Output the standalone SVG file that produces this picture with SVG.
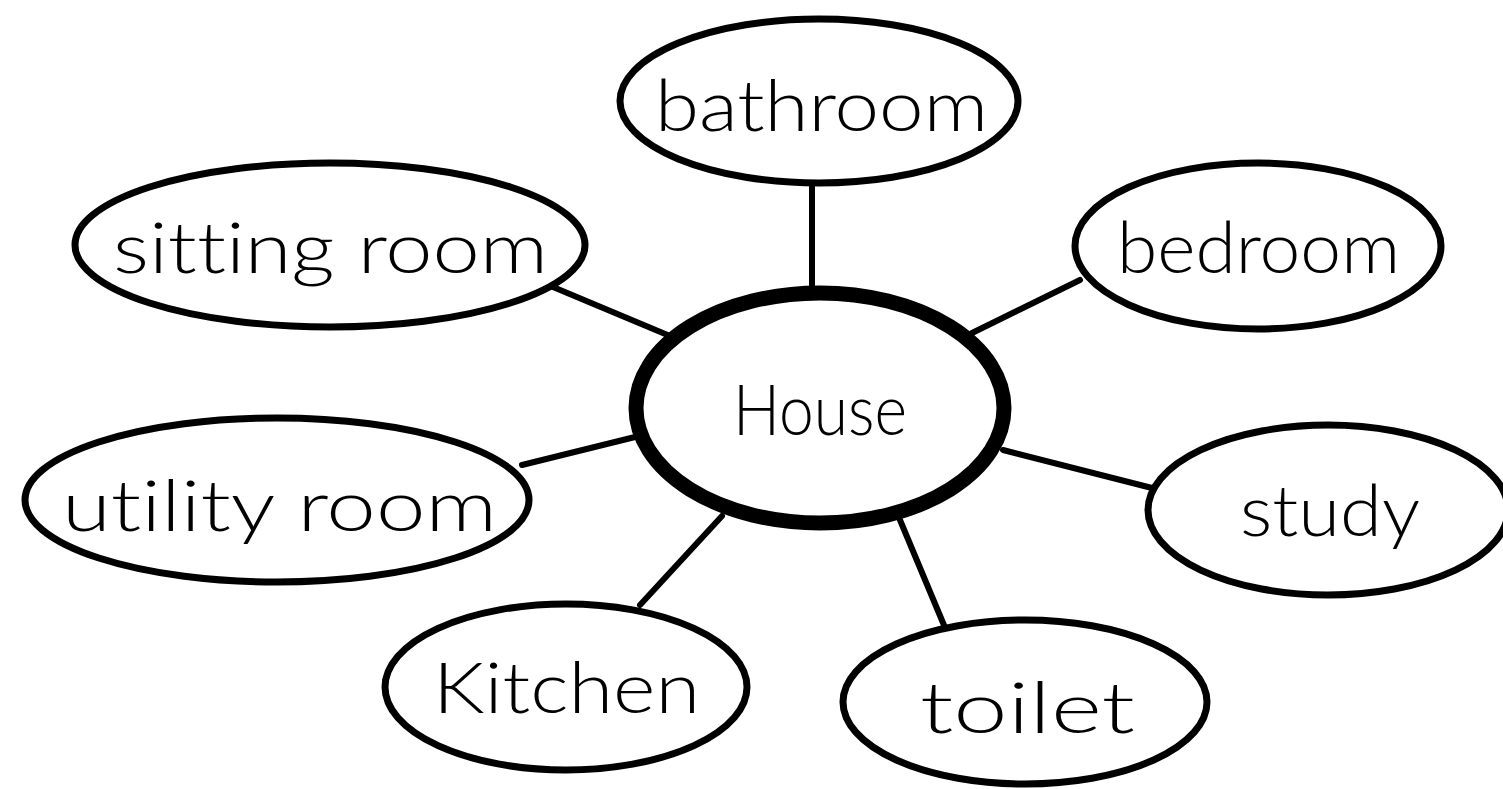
<svg xmlns="http://www.w3.org/2000/svg" width="1503" height="789" viewBox="0 0 1503 789">
<style>
.n{fill:#fff;stroke:#000;stroke-width:7}
.hub{fill:#fff;stroke:#000;stroke-width:15}
.c line{stroke:#000;stroke-width:6;stroke-linecap:round}
text{font-family:Lato,"Liberation Sans","DejaVu Sans",sans-serif;font-weight:300;font-size:70px;fill:#000;text-anchor:start;font-variant-ligatures:none}
</style>
<rect width="1503" height="789" fill="#fff"/>
<g id="connectors" class="c">
<line x1="812" y1="185" x2="812" y2="295"/>
<line x1="553" y1="287" x2="670" y2="336"/>
<line x1="1080" y1="280" x2="972" y2="333"/>
<line x1="522" y1="465" x2="635" y2="437"/>
<line x1="1003" y1="450" x2="1152" y2="488"/>
<line x1="640" y1="605" x2="722" y2="516"/>
<line x1="946" y1="630" x2="900" y2="520"/>
</g>
<g id="house">
<ellipse class="hub" cx="820" cy="408" rx="184" ry="115"/>
<text x="733" y="435" textLength="174" lengthAdjust="spacingAndGlyphs">House</text>
</g>
<g id="bathroom">
<ellipse class="n" cx="819" cy="101" rx="199" ry="82"/>
<text x="655" y="131" textLength="333" lengthAdjust="spacingAndGlyphs">bathroom</text>
</g>
<g id="sitting-room">
<ellipse class="n" cx="330" cy="245" rx="255" ry="82"/>
<text x="113" y="273" textLength="435" lengthAdjust="spacingAndGlyphs">sitting room</text>
</g>
<g id="bedroom">
<ellipse class="n" cx="1258" cy="246" rx="183" ry="83"/>
<text x="1117" y="273" textLength="283" lengthAdjust="spacingAndGlyphs">bedroom</text>
</g>
<g id="utility-room">
<ellipse class="n" cx="277" cy="500" rx="252" ry="82"/>
<text x="62" y="531" textLength="435" lengthAdjust="spacingAndGlyphs">utility room</text>
</g>
<g id="study">
<ellipse class="n" cx="1328" cy="510" rx="180" ry="85"/>
<text x="1240" y="536" textLength="180" lengthAdjust="spacingAndGlyphs">study</text>
</g>
<g id="kitchen">
<ellipse class="n" cx="566" cy="687" rx="181" ry="83"/>
<text x="433" y="713" textLength="267" lengthAdjust="spacingAndGlyphs">Kitchen</text>
</g>
<g id="toilet">
<ellipse class="n" cx="1025" cy="702" rx="182" ry="82"/>
<text x="920" y="733" textLength="215" lengthAdjust="spacingAndGlyphs">toilet</text>
</g>
</svg>
